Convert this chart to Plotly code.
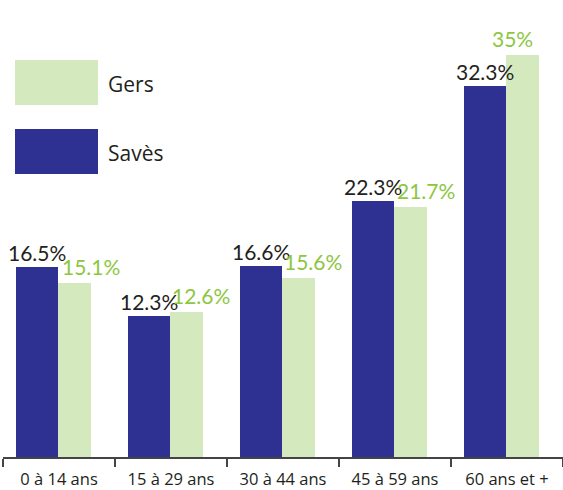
import plotly.graph_objects as go

categories = ["0 à 14 ans", "15 à 29 ans", "30 à 44 ans", "45 à 59 ans", "60 ans et +"]
saves_values = [16.5, 12.3, 16.6, 22.3, 32.3]
gers_values = [15.1, 12.6, 15.6, 21.7, 35]
saves_labels = ["16.5%", "12.3%", "16.6%", "22.3%", "32.3%"]
gers_labels = ["15.1%", "12.6%", "15.6%", "21.7%", "35%"]
series_names = ["Gers", "Savès"]

# styles
SAVES_COLOR = "#2e3192"
GERS_COLOR = "#d4eabe"
GERS_TEXT = "#8dc63f"
DARK_TEXT = "#231f20"
W, H = 563, 490
ML, MR, MT, MB = 3, 0, 0, 33
CAT_PX = (W - ML - MR) / len(categories)
saves_offset, saves_width = -0.38, 0.37
gers_offset, gers_width = -0.01, 0.30
gers_label_dx = [32, 30, 30, 31, 5]

fig = go.Figure()
fig.add_trace(go.Bar(x=categories, y=saves_values, name=series_names[1],
                     marker=dict(color=SAVES_COLOR, line=dict(width=0)),
                     offset=saves_offset, width=saves_width, showlegend=False, hoverinfo="skip"))
fig.add_trace(go.Bar(x=categories, y=gers_values, name=series_names[0],
                     marker=dict(color=GERS_COLOR, line=dict(width=0)),
                     offset=gers_offset, width=gers_width, showlegend=False, hoverinfo="skip"))

annotations = []
for i, c in enumerate(categories):
    annotations.append(dict(x=c, y=saves_values[i], text=saves_labels[i], showarrow=False,
                            xref="x", yref="y", yanchor="bottom",
                            xshift=(saves_offset + saves_width / 2) * CAT_PX, yshift=0,
                            font=dict(family="Lato", size=21, color=DARK_TEXT)))
    annotations.append(dict(x=c, y=gers_values[i], text=gers_labels[i], showarrow=False,
                            xref="x", yref="y", yanchor="bottom",
                            xshift=gers_label_dx[i], yshift=2,
                            font=dict(family="Lato", size=21, color=GERS_TEXT)))

# custom legend with large swatches
legend_items = [(series_names[0], GERS_COLOR, 60), (series_names[1], SAVES_COLOR, 129)]
shapes = []
for name, col, top in legend_items:
    shapes.append(dict(type="rect", xref="paper", yref="paper",
                       x0=(15 - ML) / (W - ML - MR), x1=(98 - ML) / (W - ML - MR),
                       y0=1 - (top + 45) / (H - MT - MB), y1=1 - top / (H - MT - MB),
                       fillcolor=col, line=dict(width=0), layer="above"))
    annotations.append(dict(xref="paper", yref="paper", x=(106 - ML) / (W - ML - MR),
                            y=1 - (top + 24) / (H - MT - MB), xanchor="left", yanchor="middle",
                            text=name, showarrow=False,
                            font=dict(family="Open Sans", size=21, color=DARK_TEXT)))

fig.update_layout(
    width=W, height=H, margin=dict(l=ML, r=MR, t=MT, b=MB),
    paper_bgcolor="white", plot_bgcolor="white",
    barmode="overlay", bargap=0,
    annotations=annotations, shapes=shapes,
    xaxis=dict(type="category", showline=True, linecolor="#444", linewidth=1.5,
               ticks="outside", tickson="boundaries", ticklen=8, tickcolor="#444", tickwidth=1.5,
               ticklabelstandoff=7, automargin=False,
               showgrid=False, tickfont=dict(family="Open Sans", size=16.5, color=DARK_TEXT)),
    yaxis=dict(range=[0, (H - MT - MB) / 11.5], visible=False, showgrid=False, zeroline=False),
)

fig.write_html("out.html", config={"displayModeBar": False, "staticPlot": True},
               post_script="document.body.style.margin='0';document.body.style.overflow='hidden';")
